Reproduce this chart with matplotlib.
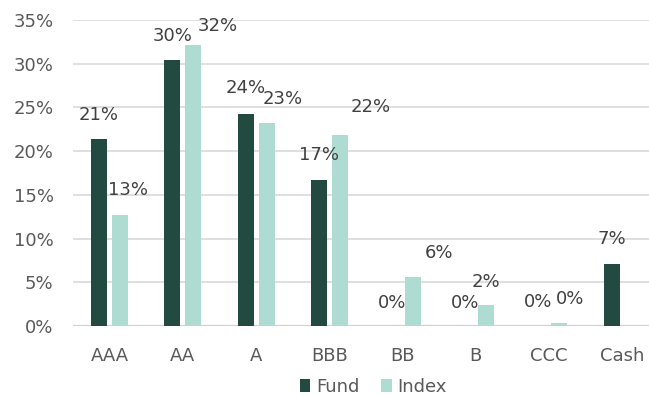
import numpy as np
import matplotlib.pyplot as plt

plt.rcParams['font.family'] = ['DejaVu Sans']

# 数据
categories = ['AAA', 'AA', 'A', 'BBB', 'BB', 'B', 'CCC', 'Cash']
fund = [21.4, 30.4, 24.3, 16.7, 0.0, 0.0, 0.0, 7.1]
index = [12.7, 32.15, 23.2, 21.8, 5.6, 2.37, 0.3, None]

# 数据标签位置 (Excel 里的标签是手动挪过的)
fund_lbl_y = [24.1, 33.2, 27.2, 19.6, 2.67, 2.67, 2.7, 9.9]
index_lbl_y = [15.5, 34.3, 26.0, 25.0, 8.4, 5.07, 3.1, None]
index_lbl_dx = [7.5, 24, 15.7, 30.5, 25.8, 0, 11, 0]  # 像素

fund_color = '#224a40'
index_color = '#aedbd2'
text_color = '#404040'
tick_color = '#595959'

W, H = 649, 396
fig = plt.figure(figsize=(W / 100, H / 100), dpi=100)
slot = 73.2
left, right = 73, 73 + slot * 8
ax = fig.add_axes([left / W, (H - 326) / H, (right - left) / W, (326 - 20) / H])

x = np.arange(len(categories))
off = 10.5 / slot
bw = 16 / slot
ax.bar(x - off, fund, bw, color=fund_color, label='Fund', zorder=3)
idx_vals = [v if v is not None else 0 for v in index]
ax.bar(x + off, idx_vals, bw, color=index_color, label='Index', zorder=3)

for i in range(len(categories)):
    ax.text(x[i] - off, fund_lbl_y[i], f'{round(fund[i])}%', ha='center', va='center',
            fontsize=13, color=text_color, zorder=4)
    if index[i] is not None:
        ax.text(x[i] + off + index_lbl_dx[i] / slot, index_lbl_y[i], f'{round(index[i])}%',
                ha='center', va='center', fontsize=13, color=text_color, zorder=4)

ax.set_xlim(-0.5, 7.5)
ax.set_ylim(0, 35)
ax.set_yticks(np.arange(0, 36, 5))
ax.set_yticklabels([f'{t}%' for t in range(0, 36, 5)])
ax.set_xticks(x)
ax.set_xticklabels(categories)
ax.tick_params(axis='both', length=0, labelsize=13, colors=tick_color)
ax.tick_params(axis='y', pad=14)
ax.tick_params(axis='x', pad=15)
ax.yaxis.grid(True, color='#d9d9d9', linewidth=1.2, zorder=0)
ax.axhline(0, color='#d0d0d0', linewidth=1.6, zorder=2)
for s in ax.spines.values():
    s.set_visible(False)

fig.legend(loc='center', bbox_to_anchor=(373 / W, 1 - 387 / H), ncol=2, frameon=False,
           fontsize=13, handlelength=0.6, handleheight=0.7, handletextpad=0.3,
           columnspacing=1.2, labelcolor=tick_color)

fig.savefig('out.png', dpi=100)
